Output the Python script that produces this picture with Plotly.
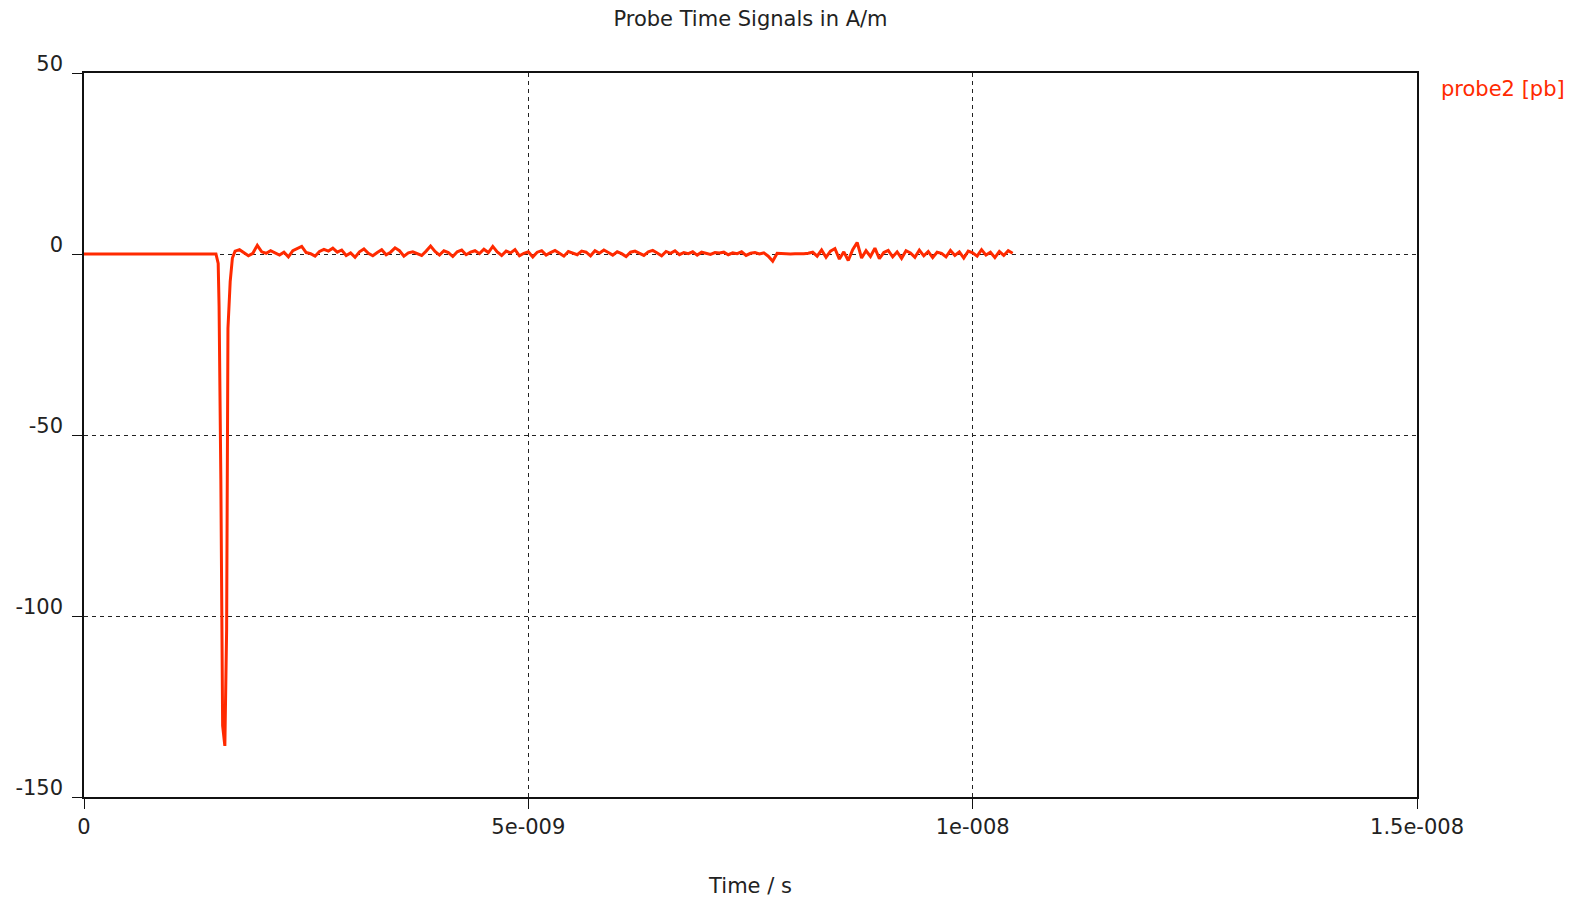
import plotly.graph_objects as go

# ---- data (time in ns, value in A/m) ----
spike_t = [0.0, 1.485, 1.51, 1.52, 1.54, 1.56, 1.585, 1.605, 1.62, 1.645, 1.67]
spike_v = [0.0, 0.0, -2.6, -14.5, -62.4, -130.3, -135.9, -103.7, -20.5, -7.6, -1.1]

noise_t0 = 1.70   # ns, first noise sample
noise_dt = 0.05   # ns, sample step
noise_v = [
    0.8, 1.2, 0.3, -0.5, 0.2, 2.4, 0.6, 0.2, 0.9, 0.4,
    -0.3, 0.5, -0.8, 0.9, 1.5, 2.1, 0.4, 0.1, -0.6, 0.7,
    1.3, 0.8, 1.6, 0.5, 1.1, -0.4, 0.3, -0.9, 0.6, 1.4,
    0.2, -0.5, 0.4, 1.2, -0.2, 0.5, 1.7, 0.9, -0.6, 0.3,
    0.6, 0.2, -0.4, 0.8, 2.2, 0.7, -0.3, 0.9, 0.4, -0.7,
    0.6, 1.1, -0.2, 0.5, 0.9, 0.1, 1.3, 0.4, 2.1, 0.6,
    -0.4, 0.8, 0.3, 1.2, -0.5, 0.2, 0.6, -0.8, 0.5, 0.9,
    -0.3, 0.4, 1.0, 0.2, -0.6, 0.7, 0.3, -0.2, 0.8, 0.5,
    -0.5, 0.9, 0.2, 1.1, 0.4, -0.3, 0.6, 0.1, -0.7, 0.5,
    0.8, 0.2, -0.4, 0.6, 1.0, 0.3, -0.5, 0.7, 0.2, 0.9,
    -0.2, 0.4, 0.1, 0.6, -0.3, 0.5, 0.2, -0.1, 0.4, 0.3,
    0.5, -0.2, 0.3, 0.1, 0.6, -0.4, 0.2, 0.4, 0.0, 0.3,
    -0.6, -2.0, 0.2, 0.1, 0.1, 0.0, 0.1, 0.0, 0.1, 0.2,
    0.5, -0.6, 1.1, -0.9, 0.8, 1.5, -1.4, 0.6, -1.8, 1.2,
    3.2, -1.1, 0.9, -0.7, 1.6, -1.3, 0.4, 1.0, -0.8, 0.6,
    -1.2, 0.9, 0.3, -0.9, 1.1, -0.5, 0.7, -1.0, 0.5, 0.2,
    -0.8, 1.0, -0.4, 0.6, -1.1, 0.8, 0.3, -0.6, 1.2, -0.3,
    0.5, -1.0, 0.7, -0.4, 0.9, 0.2,
]

x_tick_vals = [0, 5e-9, 1e-8, 1.5e-8]
x_tick_text = ["0", "5e-009", "1e-008", "1.5e-008"]
y_tick_vals = [-150, -100, -50, 0, 50]
y_tick_text = ["-150", "-100", "-50", "0", "50"]

series_name = "probe2 [pb]"
title_text = "Probe Time Signals in A/m"
x_title = "Time / s"

# ---- build series ----
noise_t = [round(noise_t0 + i * noise_dt, 4) for i in range(len(noise_v))]
t_ns = spike_t + noise_t
vals = spike_v + noise_v
t_s = [t * 1e-9 for t in t_ns]

RED = "#ff2a00"
FONT = "DejaVu Sans"
FS = 21

fig = go.Figure()
fig.add_trace(go.Scatter(
    x=t_s, y=vals, mode="lines", name=series_name,
    line=dict(color=RED, width=3, shape="linear"),
    showlegend=False,
))

axis_common = dict(
    showline=True, mirror=True, linecolor="#111", linewidth=1.5,
    showgrid=True, gridcolor="#222", gridwidth=1, griddash="4px,4px",
    zeroline=False, ticks="outside", ticklen=10, tickcolor="#111",
    tickfont=dict(family=FONT, size=FS, color="#222"),
    automargin=False,
)

fig.update_xaxes(
    range=[0, 1.5e-8], tickvals=x_tick_vals, ticktext=x_tick_text,
    ticklabelstandoff=0,
    title=dict(text=x_title, font=dict(family=FONT, size=FS, color="#222"), standoff=40),
    **axis_common,
)
fig.update_yaxes(
    range=[-150, 50], tickvals=y_tick_vals, ticktext=y_tick_text,
    ticklabelshift=-9, ticklabelstandoff=5,
    **axis_common,
)

fig.add_annotation(
    text=series_name, xref="paper", yref="paper", x=1, y=1,
    xanchor="left", yanchor="middle", xshift=22, yshift=-16,
    showarrow=False, font=dict(family=FONT, size=FS, color=RED),
)

fig.update_layout(
    width=1579, height=899,
    margin=dict(l=84, r=162, t=73, b=102, autoexpand=False),
    paper_bgcolor="white", plot_bgcolor="white",
    title=dict(text=title_text, x=0.5, xref="paper", y=1 - 19 / 899,
               yanchor="middle", xanchor="center",
               font=dict(family=FONT, size=FS, color="#222")),
)

fig.write_html("out.html")
